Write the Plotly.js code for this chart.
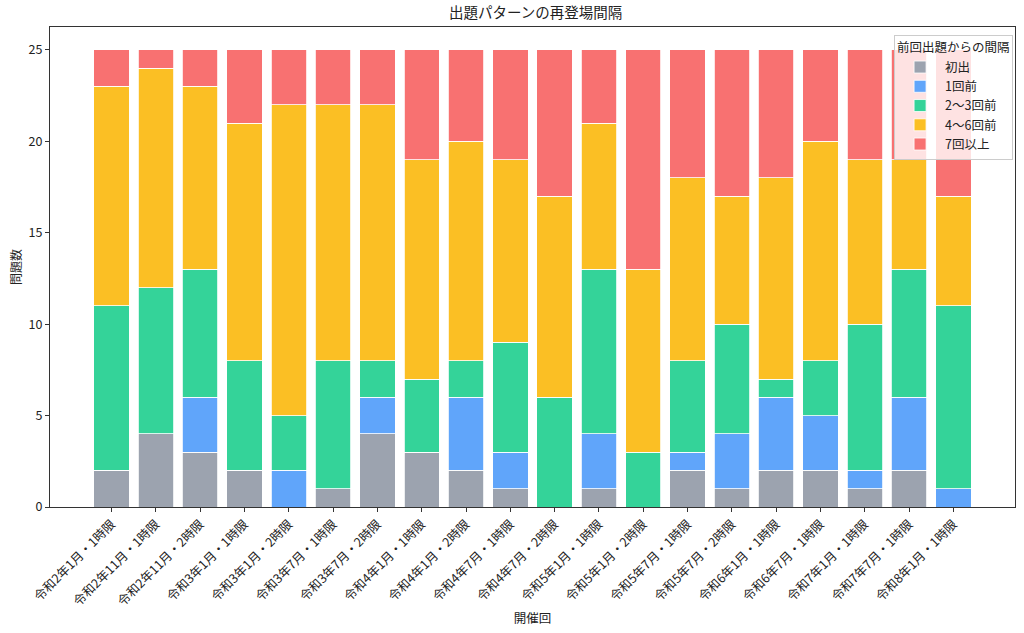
<!DOCTYPE html>
<html>
<head>
<meta charset="utf-8">
<script src="https://cdn.plot.ly/plotly-3.0.1.min.js"></script>
<style>html,body{margin:0;padding:0;background:#fff;}#chart{width:1024px;height:633px;}</style>
</head>
<body>
<div id="chart"></div>
<script>
const categories = [
  "令和2年1月・1時限","令和2年11月・1時限","令和2年11月・2時限","令和3年1月・1時限",
  "令和3年1月・2時限","令和3年7月・1時限","令和3年7月・2時限","令和4年1月・1時限",
  "令和4年1月・2時限","令和4年7月・1時限","令和4年7月・2時限","令和5年1月・1時限",
  "令和5年1月・2時限","令和5年7月・1時限","令和5年7月・2時限","令和6年1月・1時限",
  "令和6年7月・1時限","令和7年1月・1時限","令和7年7月・1時限","令和8年1月・1時限"
];
const seriesNames = ["初出","1回前","2〜3回前","4〜6回前","7回以上"];
const firstTime  = [2,4,3,2,0,1,4,3,2,1,0,1,0,2,1,2,2,1,2,0];
const oneBefore  = [0,0,3,0,2,0,2,0,4,2,0,3,0,1,3,4,3,1,4,1];
const twoToThree = [9,8,7,6,3,7,2,4,2,6,6,9,3,5,6,1,3,8,7,10];
const fourToSix  = [12,12,10,13,17,14,14,12,12,10,11,8,10,10,7,11,12,9,6,6];
const sevenPlus  = [2,1,2,4,3,3,3,6,5,6,8,4,12,7,8,7,5,6,6,8];
const colors = ["#9ca3af","#60a5fa","#34d399","#fbbf24","#f87171"];
const seriesValues = [firstTime, oneBefore, twoToThree, fourToSix, sevenPlus];

const idx = categories.map((_, i) => i);
const traces = seriesValues.map((vals, k) => ({
  type: "bar",
  name: seriesNames[k],
  x: idx,
  y: vals,
  width: 0.8,
  marker: {color: colors[k], line: {color: "#ffffff", width: 0.8}},
  hoverinfo: "skip"
}));

const font = "'Noto Sans CJK JP', 'Noto Sans', sans-serif";
const layout = {
  width: 1024, height: 633,
  margin: {l: 50, r: 9, t: 27, b: 126},
  barmode: "stack",
  bargap: 0,
  paper_bgcolor: "#fff", plot_bgcolor: "#fff",
  font: {family: font, size: 12.5, color: "#222"},
  title: {text: "出題パターンの再登場間隔", font: {size: 14.5, color: "#222"}, x: 0.523, xanchor: "center", y: 0.987, yanchor: "top"},
  xaxis: {
    range: [-1.39, 20.39],
    tickmode: "array", tickvals: idx, ticktext: categories,
    tickangle: -45,
    tickfont: {size: 12.5},
    ticks: "outside", ticklen: 4, tickcolor: "#333",
    showline: true, linecolor: "#333", linewidth: 1, mirror: true,
    showgrid: false, zeroline: false,
    title: {text: "開催回", font: {size: 12.5}, standoff: 5}
  },
  yaxis: {
    range: [0, 26.25],
    tickvals: [0,5,10,15,20,25],
    tickfont: {size: 12.5},
    ticks: "outside", ticklen: 4, tickcolor: "#333",
    showline: true, linecolor: "#333", linewidth: 1, mirror: true,
    showgrid: false, zeroline: false,
    title: {text: "問題数", font: {size: 12}, standoff: 4}
  },
  legend: {
    x: 0.998, xanchor: "right", y: 0.983, yanchor: "top",
    bgcolor: "rgba(255,255,255,0.8)", bordercolor: "#cccccc", borderwidth: 1,
    title: {text: "前回出題からの間隔", font: {size: 12.5}},
    font: {size: 12.5},
    traceorder: "normal",
    tracegroupgap: 0,
    itemwidth: 40
  },
  showlegend: true
};
Plotly.newPlot("chart", traces, layout, {displayModeBar: false, staticPlot: true});
</script>
</body>
</html>
